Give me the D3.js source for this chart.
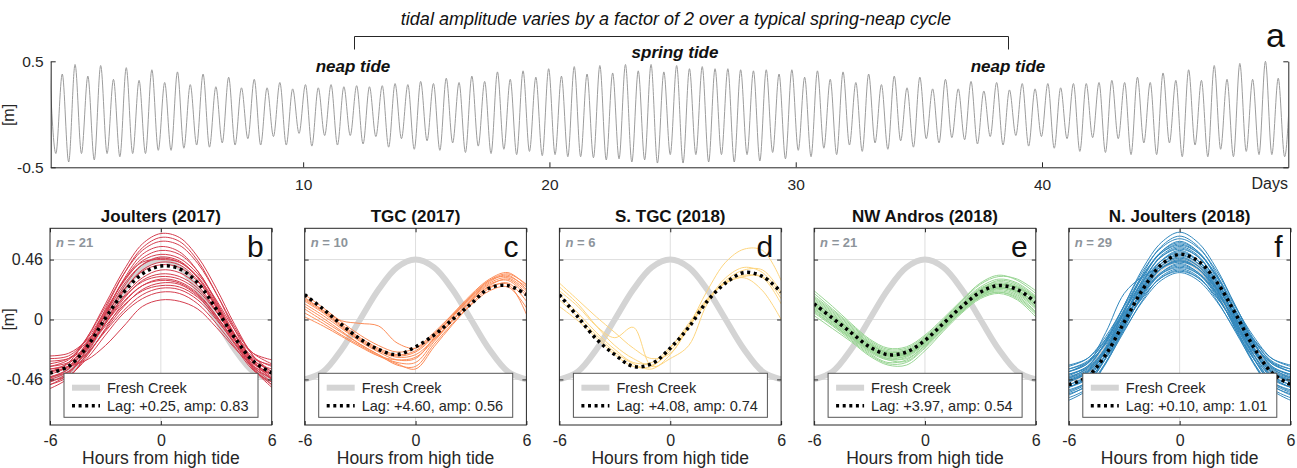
<!DOCTYPE html>
<html>
<head>
<meta charset="utf-8">
<script src="https://cdn.jsdelivr.net/npm/d3@7"></script>
<style>
  body { margin: 0; background: #fff; }
  svg { font-family: "Liberation Sans", Arial, Helvetica, sans-serif; }
</style>
</head>
<body>
<div id="chart"></div>
<script>
// ---- panel a : water level at Fresh Creek, read as successive highs and lows ----
var firstHighDay = -0.30;   // day of the first high water (just off the left edge)
var tidePeriod = 0.5197;    // days between successive highs
var tideHighs = [0.45, 0.38, 0.47, 0.36, 0.46, 0.33, 0.44, 0.32, 0.42, 0.30,
                 0.40, 0.28, 0.38, 0.26, 0.35, 0.25, 0.33, 0.25, 0.30, 0.24,
                 0.28, 0.25, 0.28, 0.26, 0.27, 0.26, 0.27, 0.29, 0.28, 0.31,
                 0.29, 0.34, 0.30, 0.36, 0.31, 0.40, 0.33, 0.41, 0.35, 0.43,
                 0.36, 0.45, 0.38, 0.46, 0.39, 0.47, 0.41, 0.47, 0.40, 0.46,
                 0.43, 0.45, 0.43, 0.43, 0.42, 0.41, 0.42, 0.38, 0.42, 0.35,
                 0.41, 0.33, 0.40, 0.30, 0.38, 0.28, 0.36, 0.25, 0.35, 0.24,
                 0.33, 0.24, 0.31, 0.22, 0.30, 0.23, 0.29, 0.24, 0.29, 0.25,
                 0.29, 0.29, 0.30, 0.32, 0.30, 0.35, 0.30, 0.39, 0.32, 0.42,
                 0.32, 0.46, 0.33, 0.48, 0.33, 0.50, 0.34, 0.48];
var tideLows = [-0.37, -0.45, -0.37, -0.43, -0.37, -0.40, -0.37, -0.37, -0.34, -0.34,
                -0.32, -0.29, -0.31, -0.27, -0.29, -0.23, -0.29, -0.21, -0.29, -0.18,
                -0.30, -0.20, -0.29, -0.20, -0.28, -0.21, -0.31, -0.23, -0.33, -0.25,
                -0.34, -0.27, -0.36, -0.30, -0.37, -0.33, -0.38, -0.35, -0.39, -0.38,
                -0.40, -0.40, -0.41, -0.43, -0.42, -0.45, -0.43, -0.46, -0.38, -0.46,
                -0.38, -0.45, -0.38, -0.45, -0.38, -0.44, -0.36, -0.42, -0.34, -0.40,
                -0.32, -0.38, -0.29, -0.35, -0.27, -0.33, -0.25, -0.31, -0.23, -0.27,
                -0.22, -0.24, -0.28, -0.21, -0.29, -0.20, -0.30, -0.21, -0.32, -0.23,
                -0.35, -0.22, -0.36, -0.23, -0.38, -0.27, -0.38, -0.27, -0.40, -0.29,
                -0.40, -0.33, -0.40, -0.35, -0.38, -0.38, -0.40];
var dayTicks = [10, 20, 30, 40];
var levelTicksA = [-0.5, 0.5];

// ---- panels b-f : tidal curves around high tide ----
var hours = [-6, -5, -4, -3, -2, -1, 0, 1, 2, 3, 4, 5, 6];
var hourTicks = [-6, 0, 6];
var levelTicks = [-0.46, 0, 0.46];
var freshCreek = [-0.46, -0.40, -0.23, 0.00, 0.23, 0.40, 0.46, 0.40, 0.23, 0.00, -0.23, -0.40, -0.46];

var siteNames = ["Joulters (2017)", "TGC (2017)", "S. TGC (2018)", "NW Andros (2018)", "N. Joulters (2018)"];
var panelLetters = ["b", "c", "d", "e", "f"];
var siteLags = [0.25, 4.60, 4.08, 3.97, 0.10];
var siteAmps = [0.83, 0.56, 0.74, 0.54, 1.01];
var siteColors = ["#d53e4f", "#fc8d59", "#fdd57f", "#99d594", "#3288bd"];

var joultersMean = [-0.41, -0.36, -0.21, 0.01, 0.21, 0.35, 0.41, 0.39, 0.28, 0.08, -0.14, -0.32, -0.41];
var tgcMean = [0.19, 0.08, -0.04, -0.15, -0.23, -0.27, -0.21, -0.12, 0.00, 0.12, 0.24, 0.26, 0.19];
var southTgcMean = [0.19, 0.02, -0.15, -0.27, -0.36, -0.34, -0.22, -0.06, 0.14, 0.28, 0.36, 0.33, 0.21];
var nwAndrosMean = [0.12, 0.01, -0.10, -0.21, -0.27, -0.25, -0.16, -0.03, 0.10, 0.21, 0.26, 0.23, 0.13];
var northJoultersMean = [-0.50, -0.44, -0.27, -0.02, 0.23, 0.42, 0.50, 0.45, 0.29, 0.05, -0.21, -0.41, -0.50];

var joultersRuns = [
  [-0.40, -0.33, -0.14, 0.12, 0.38, 0.58, 0.66, 0.63, 0.48, 0.24, -0.04, -0.28, -0.42],
  [-0.45, -0.38, -0.19, 0.08, 0.35, 0.55, 0.63, 0.60, 0.45, 0.20, -0.08, -0.32, -0.46],
  [-0.36, -0.31, -0.14, 0.10, 0.35, 0.53, 0.60, 0.57, 0.43, 0.20, -0.06, -0.28, -0.40],
  [-0.50, -0.42, -0.22, 0.05, 0.31, 0.50, 0.56, 0.52, 0.37, 0.13, -0.14, -0.37, -0.50],
  [-0.42, -0.36, -0.18, 0.06, 0.30, 0.47, 0.53, 0.50, 0.37, 0.14, -0.11, -0.32, -0.44],
  [-0.30, -0.28, -0.15, 0.07, 0.29, 0.45, 0.50, 0.47, 0.35, 0.15, -0.08, -0.26, -0.34],
  [-0.48, -0.41, -0.23, 0.01, 0.25, 0.42, 0.48, 0.45, 0.32, 0.10, -0.15, -0.36, -0.48],
  [-0.38, -0.34, -0.18, 0.04, 0.27, 0.42, 0.47, 0.44, 0.32, 0.11, -0.12, -0.31, -0.40],
  [-0.44, -0.38, -0.20, 0.04, 0.30, 0.44, 0.46, 0.44, 0.33, 0.12, -0.12, -0.33, -0.45],
  [-0.53, -0.45, -0.26, -0.02, 0.22, 0.38, 0.44, 0.42, 0.30, 0.09, -0.16, -0.38, -0.52],
  [-0.34, -0.30, -0.17, 0.03, 0.23, 0.37, 0.42, 0.40, 0.29, 0.10, -0.12, -0.29, -0.36],
  [-0.46, -0.40, -0.24, -0.03, 0.18, 0.32, 0.38, 0.36, 0.26, 0.07, -0.15, -0.35, -0.46],
  [-0.40, -0.36, -0.22, -0.03, 0.16, 0.30, 0.35, 0.33, 0.24, 0.06, -0.15, -0.33, -0.42],
  [-0.28, -0.26, -0.16, 0.00, 0.17, 0.29, 0.33, 0.31, 0.22, 0.06, -0.12, -0.26, -0.31],
  [-0.50, -0.44, -0.28, -0.07, 0.13, 0.26, 0.31, 0.29, 0.20, 0.03, -0.18, -0.38, -0.50],
  [-0.36, -0.33, -0.21, -0.03, 0.14, 0.26, 0.30, 0.28, 0.19, 0.03, -0.16, -0.32, -0.38],
  [-0.44, -0.40, -0.27, -0.08, 0.10, 0.23, 0.28, 0.27, 0.18, 0.01, -0.19, -0.37, -0.45],
  [-0.32, -0.30, -0.21, -0.05, 0.11, 0.22, 0.26, 0.25, 0.17, 0.02, -0.16, -0.30, -0.35],
  [-0.40, -0.37, -0.26, -0.09, 0.07, 0.19, 0.24, 0.23, 0.15, 0.00, -0.18, -0.34, -0.42],
  [-0.47, -0.43, -0.30, -0.12, 0.05, 0.16, 0.21, 0.20, 0.12, -0.03, -0.21, -0.39, -0.48],
  [-0.38, -0.36, -0.31, -0.20, -0.05, 0.10, 0.15, 0.14, 0.08, -0.06, -0.22, -0.36, -0.42]
];
var tgcRuns = [
  [0.19, 0.09, -0.02, -0.12, -0.20, -0.25, -0.22, -0.10, 0.04, 0.18, 0.30, 0.33, 0.25],
  [0.16, 0.07, -0.04, -0.14, -0.22, -0.27, -0.24, -0.12, 0.02, 0.16, 0.28, 0.32, 0.22],
  [0.14, 0.05, -0.06, -0.16, -0.24, -0.29, -0.27, -0.15, 0.00, 0.15, 0.27, 0.30, 0.18],
  [0.12, 0.03, -0.07, -0.17, -0.25, -0.31, -0.30, -0.14, 0.02, 0.17, 0.30, 0.35, 0.27],
  [0.10, 0.01, -0.09, -0.19, -0.27, -0.33, -0.33, -0.17, -0.01, 0.14, 0.26, 0.31, 0.20],
  [0.08, -0.01, -0.10, -0.19, -0.27, -0.35, -0.36, -0.19, -0.03, 0.12, 0.24, 0.28, 0.14],
  [0.05, -0.03, -0.12, -0.20, -0.28, -0.34, -0.38, -0.21, -0.04, 0.11, 0.22, 0.25, 0.09],
  [0.02, -0.05, -0.13, -0.21, -0.28, -0.31, -0.29, -0.16, -0.01, 0.14, 0.25, 0.27, 0.04],
  [0.17, 0.07, -0.01, -0.03, -0.05, -0.18, -0.22, -0.11, 0.04, 0.19, 0.31, 0.36, 0.26],
  [0.15, 0.06, -0.05, -0.15, -0.23, -0.28, -0.25, -0.13, 0.03, 0.17, 0.29, 0.34, 0.23]
];
var southTgcRuns = [
  [0.28, 0.15, 0.02, -0.10, -0.22, -0.30, -0.26, -0.05, 0.22, 0.44, 0.54, 0.53, 0.30],
  [0.22, 0.10, -0.05, -0.14, -0.06, -0.36, -0.30, -0.20, 0.12, 0.30, 0.38, 0.38, 0.21],
  [0.15, 0.02, -0.12, -0.25, -0.34, -0.38, -0.27, -0.06, 0.15, 0.29, 0.34, 0.32, 0.12],
  [0.10, -0.01, -0.14, -0.27, -0.36, -0.36, -0.22, -0.03, 0.16, 0.28, 0.32, 0.22, 0.00],
  [0.19, 0.05, -0.10, -0.23, -0.33, -0.33, -0.21, -0.05, 0.15, 0.28, 0.33, 0.33, 0.16],
  [0.25, 0.12, -0.05, -0.20, -0.30, -0.35, -0.24, -0.06, 0.14, 0.32, 0.40, 0.36, 0.19]
];
var nwAndrosRuns = [
  [0.22, 0.10, -0.03, -0.15, -0.22, -0.21, -0.12, 0.01, 0.15, 0.28, 0.34, 0.30, 0.20],
  [0.18, 0.07, -0.05, -0.17, -0.24, -0.23, -0.14, -0.01, 0.13, 0.25, 0.31, 0.28, 0.18],
  [0.16, 0.05, -0.07, -0.18, -0.25, -0.24, -0.15, -0.02, 0.12, 0.24, 0.29, 0.26, 0.16],
  [0.15, 0.04, -0.08, -0.19, -0.26, -0.26, -0.17, -0.03, 0.11, 0.23, 0.28, 0.25, 0.15],
  [0.14, 0.03, -0.09, -0.20, -0.27, -0.27, -0.18, -0.04, 0.10, 0.22, 0.27, 0.24, 0.14],
  [0.13, 0.02, -0.09, -0.20, -0.27, -0.25, -0.16, -0.03, 0.10, 0.21, 0.26, 0.24, 0.16],
  [0.12, 0.01, -0.10, -0.21, -0.28, -0.26, -0.16, -0.04, 0.09, 0.20, 0.25, 0.22, 0.12],
  [0.11, 0.00, -0.11, -0.22, -0.28, -0.27, -0.17, -0.04, 0.09, 0.20, 0.25, 0.21, 0.10],
  [0.10, 0.00, -0.12, -0.23, -0.29, -0.28, -0.18, -0.05, 0.08, 0.19, 0.24, 0.20, 0.09],
  [0.09, -0.02, -0.13, -0.24, -0.30, -0.28, -0.18, -0.05, 0.08, 0.20, 0.25, 0.22, 0.11],
  [0.08, -0.03, -0.14, -0.25, -0.31, -0.29, -0.19, -0.06, 0.07, 0.18, 0.23, 0.19, 0.08],
  [0.07, -0.04, -0.15, -0.26, -0.33, -0.31, -0.20, -0.06, 0.07, 0.18, 0.22, 0.18, 0.06],
  [0.05, -0.05, -0.16, -0.27, -0.34, -0.33, -0.22, -0.08, 0.06, 0.17, 0.21, 0.16, 0.04],
  [0.03, -0.07, -0.17, -0.28, -0.35, -0.35, -0.24, -0.09, 0.05, 0.16, 0.20, 0.15, 0.02],
  [0.20, 0.08, -0.04, -0.16, -0.23, -0.22, -0.13, 0.00, 0.14, 0.27, 0.33, 0.31, 0.22],
  [0.17, 0.06, -0.06, -0.18, -0.26, -0.25, -0.14, -0.01, 0.12, 0.23, 0.27, 0.25, 0.17],
  [0.13, 0.03, -0.08, -0.19, -0.25, -0.24, -0.15, -0.02, 0.11, 0.23, 0.30, 0.27, 0.17],
  [0.10, -0.01, -0.12, -0.22, -0.28, -0.27, -0.18, -0.05, 0.09, 0.21, 0.27, 0.23, 0.12],
  [0.08, -0.02, -0.13, -0.23, -0.30, -0.30, -0.20, -0.07, 0.06, 0.17, 0.21, 0.17, 0.05],
  [0.06, -0.04, -0.14, -0.24, -0.31, -0.32, -0.21, -0.07, 0.06, 0.18, 0.24, 0.21, 0.10],
  [0.11, 0.01, -0.10, -0.21, -0.27, -0.26, -0.17, -0.04, 0.08, 0.19, 0.24, 0.22, 0.13]
];
var northJoultersRuns = [
  [-0.45, -0.37, -0.17, 0.11, 0.39, 0.59, 0.67, 0.59, 0.39, 0.11, -0.17, -0.37, -0.45],
  [-0.52, -0.44, -0.23, 0.06, 0.35, 0.56, 0.64, 0.56, 0.35, 0.06, -0.23, -0.44, -0.52],
  [-0.40, -0.33, -0.15, 0.11, 0.37, 0.55, 0.62, 0.55, 0.37, 0.11, -0.15, -0.33, -0.40],
  [-0.58, -0.50, -0.29, 0.01, 0.31, 0.52, 0.60, 0.52, 0.31, 0.01, -0.29, -0.50, -0.58],
  [-0.47, -0.40, -0.21, 0.06, 0.33, 0.52, 0.59, 0.52, 0.33, 0.06, -0.21, -0.40, -0.47],
  [-0.36, -0.30, -0.13, 0.10, 0.34, 0.51, 0.57, 0.51, 0.34, 0.10, -0.13, -0.30, -0.36],
  [-0.55, -0.48, -0.27, 0.00, 0.28, 0.49, 0.56, 0.49, 0.28, 0.00, -0.27, -0.48, -0.55],
  [-0.50, -0.43, -0.24, 0.03, 0.29, 0.48, 0.55, 0.48, 0.29, 0.03, -0.24, -0.43, -0.50],
  [-0.42, -0.36, -0.18, 0.06, 0.30, 0.48, 0.54, 0.48, 0.30, 0.06, -0.18, -0.36, -0.42],
  [-0.62, -0.54, -0.33, -0.05, 0.24, 0.45, 0.53, 0.45, 0.24, -0.05, -0.33, -0.54, -0.62],
  [-0.48, -0.41, -0.23, 0.02, 0.27, 0.45, 0.52, 0.45, 0.27, 0.02, -0.23, -0.41, -0.48],
  [-0.38, -0.32, -0.16, 0.07, 0.29, 0.45, 0.51, 0.45, 0.29, 0.07, -0.16, -0.32, -0.38],
  [-0.56, -0.49, -0.30, -0.03, 0.24, 0.43, 0.50, 0.43, 0.24, -0.03, -0.30, -0.49, -0.56],
  [-0.45, -0.39, -0.22, 0.02, 0.26, 0.43, 0.49, 0.43, 0.26, 0.02, -0.22, -0.39, -0.45],
  [-0.52, -0.45, -0.27, -0.02, 0.23, 0.41, 0.48, 0.41, 0.23, -0.02, -0.27, -0.45, -0.52],
  [-0.40, -0.34, -0.18, 0.04, 0.25, 0.41, 0.47, 0.41, 0.25, 0.04, -0.18, -0.34, -0.40],
  [-0.60, -0.53, -0.34, -0.07, 0.20, 0.39, 0.46, 0.39, 0.20, -0.07, -0.34, -0.53, -0.60],
  [-0.47, -0.41, -0.24, -0.01, 0.22, 0.39, 0.45, 0.39, 0.22, -0.01, -0.24, -0.41, -0.47],
  [-0.35, -0.30, -0.15, 0.05, 0.24, 0.39, 0.44, 0.39, 0.24, 0.05, -0.15, -0.30, -0.35],
  [-0.54, -0.48, -0.30, -0.06, 0.19, 0.36, 0.43, 0.36, 0.19, -0.06, -0.30, -0.48, -0.54],
  [-0.44, -0.38, -0.23, -0.01, 0.21, 0.36, 0.42, 0.36, 0.21, -0.01, -0.23, -0.38, -0.44],
  [-0.50, -0.44, -0.27, -0.05, 0.18, 0.35, 0.41, 0.35, 0.18, -0.05, -0.27, -0.44, -0.50],
  [-0.38, -0.33, -0.19, 0.01, 0.20, 0.35, 0.40, 0.35, 0.20, 0.01, -0.19, -0.33, -0.38],
  [-0.57, -0.51, -0.33, -0.09, 0.15, 0.33, 0.39, 0.33, 0.15, -0.09, -0.33, -0.51, -0.57],
  [-0.46, -0.40, -0.25, -0.04, 0.17, 0.32, 0.38, 0.32, 0.17, -0.04, -0.25, -0.40, -0.46],
  [-0.42, -0.37, -0.22, -0.03, 0.17, 0.32, 0.37, 0.32, 0.17, -0.03, -0.22, -0.37, -0.42],
  [-0.52, -0.46, -0.30, -0.08, 0.14, 0.30, 0.36, 0.30, 0.14, -0.08, -0.30, -0.46, -0.52],
  [-0.43, -0.36, -0.17, 0.08, 0.33, 0.51, 0.58, 0.51, 0.33, 0.08, -0.17, -0.36, -0.43],
  [-0.40, -0.34, -0.10, 0.20, 0.33, 0.40, 0.45, 0.39, 0.23, 0.02, -0.19, -0.34, -0.40]
];

var siteRuns = [joultersRuns, tgcRuns, southTgcRuns, nwAndrosRuns, northJoultersRuns];
var siteMeans = [joultersMean, tgcMean, southTgcMean, nwAndrosMean, northJoultersMean];

function init() {
    var w = 1297, h = 468;
    var ink = "#262626";

    var svg = d3.select("#chart").append("svg")
                .attr("width", w)
                .attr("height", h);

    // ================= panel a =================
    var ax = d3.scaleLinear().domain([-0.25, 50]).range([50.7, 1288.3]);
    var ay = d3.scaleLinear().domain([-0.5, 0.5]).range([167.3, 61.3]);

    // highs and lows interleaved in time order
    var tide = [];
    tideHighs.forEach(function(v, i) {
        tide.push({ day: firstHighDay + i * tidePeriod, level: v });
        if (i < tideLows.length) tide.push({ day: firstHighDay + (i + 0.5) * tidePeriod, level: tideLows[i] });
    });

    svg.append("clipPath").attr("id", "clipA")
       .append("rect").attr("x", ax(-0.25)).attr("y", 50)
       .attr("width", ax(50) - ax(-0.25)).attr("height", 125);

    svg.append("path")
       .datum(tide)
       .attr("clip-path", "url(#clipA)")
       .attr("fill", "none")
       .attr("stroke", "#9c9c9c")
       .attr("stroke-width", 1)
       .attr("d", d3.line().x(d => ax(d.day)).y(d => ay(d.level)).curve(d3.curveMonotoneX));

    var aBottom = svg.append("g").attr("transform", "translate(0," + ay(-0.5) + ")")
        .call(d3.axisBottom(ax).tickValues(dayTicks).tickSizeInner(-5).tickSizeOuter(0).tickPadding(12).tickFormat(String));
    var aLeft = svg.append("g").attr("transform", "translate(" + ax(-0.25) + ",0)")
        .call(d3.axisLeft(ay).tickValues(levelTicksA).tickSizeInner(-5).tickSizeOuter(0).tickPadding(7).tickFormat(String));
    var aRight = svg.append("g").attr("transform", "translate(" + ax(50) + ",0)")
        .call(d3.axisRight(ay).tickValues(levelTicksA).tickSizeInner(-5).tickSizeOuter(0).tickFormat(""));
    [aBottom, aLeft, aRight].forEach(function(g) {
        g.selectAll("path, line").attr("stroke", ink);
        g.selectAll("text").attr("fill", ink).style("font-size", "15.5px").style("font-family", "inherit");
    });

    svg.append("text").attr("x", 1288).attr("y", 189).attr("text-anchor", "end")
       .attr("fill", ink).style("font-size", "16px").text("Days");
    svg.append("text").attr("transform", "translate(14,115) rotate(-90)").attr("text-anchor", "middle")
       .attr("fill", ink).style("font-size", "16px").text("[m]");
    svg.append("text").attr("x", 1285).attr("y", 47).attr("text-anchor", "end")
       .attr("fill", "#111").style("font-size", "34px").text("a");

    // spring-neap annotation
    svg.append("text").attr("x", 676).attr("y", 25).attr("text-anchor", "middle")
       .attr("fill", "#111").style("font-size", "18px").style("font-style", "italic")
       .text("tidal amplitude varies by a factor of 2 over a typical spring-neap cycle");
    svg.append("path")
       .attr("d", "M354.5,49.5V36.5H1008.5V49.5")
       .attr("fill", "none").attr("stroke", ink).attr("stroke-width", 1);
    [["neap tide", 353, 72], ["spring tide", 675, 58], ["neap tide", 1008, 72]].forEach(function(t) {
        svg.append("text").attr("x", t[1]).attr("y", t[2]).attr("text-anchor", "middle")
           .attr("fill", "#111").style("font-size", "17px").style("font-weight", "bold").style("font-style", "italic")
           .text(t[0]);
    });

    // ================= panels b-f =================
    var panelW = 221.7, panelTop = 228.3, panelBottom = 425;
    var sx = d3.scaleLinear().domain([-6, 6]).range([0, panelW]);
    var sy = d3.scaleLinear().domain([-0.81, 0.70]).range([panelBottom, panelTop]);
    var curve = d3.line().x((d, i) => sx(hours[i])).y(d => sy(d)).curve(d3.curveCatmullRom.alpha(0.5));

    siteNames.forEach(function(name, i) {
        var left = 50 + i * 254.7;
        var g = svg.append("g").attr("transform", "translate(" + left + ",0)");

        g.append("clipPath").attr("id", "clip" + i)
         .append("rect").attr("x", 0).attr("y", panelTop).attr("width", panelW).attr("height", panelBottom - panelTop);

        // grid
        g.selectAll(".hgrid").data(levelTicks).enter().append("line")
         .attr("x1", 0).attr("x2", panelW).attr("y1", d => sy(d)).attr("y2", d => sy(d))
         .attr("stroke", "#dedede").attr("stroke-width", 1);
        g.append("line").attr("x1", sx(0)).attr("x2", sx(0)).attr("y1", panelTop).attr("y2", panelBottom)
         .attr("stroke", "#dedede").attr("stroke-width", 1);

        var plot = g.append("g").attr("clip-path", "url(#clip" + i + ")");

        plot.append("path").datum(freshCreek)
            .attr("fill", "none").attr("stroke", "#d4d4d4").attr("stroke-width", 6)
            .attr("d", curve);

        plot.selectAll(".run").data(siteRuns[i]).enter().append("path")
            .attr("fill", "none").attr("stroke", siteColors[i]).attr("stroke-width", 1)
            .attr("d", curve);

        plot.append("path").datum(siteMeans[i])
            .attr("fill", "none").attr("stroke", "#000").attr("stroke-width", 3.5)
            .attr("stroke-dasharray", "3,3.6")
            .attr("d", curve);

        // axes (ticks point inward)
        var xb = g.append("g").attr("transform", "translate(0," + panelBottom + ")")
            .call(d3.axisBottom(sx).tickValues(hourTicks).tickSizeInner(-4).tickSizeOuter(0).tickPadding(10).tickFormat(String));
        var xt = g.append("g").attr("transform", "translate(0," + panelTop + ")")
            .call(d3.axisTop(sx).tickValues(hourTicks).tickSizeInner(-4).tickSizeOuter(0).tickFormat(""));
        var yl = g.append("g")
            .call(d3.axisLeft(sy).tickValues(levelTicks).tickSizeInner(-4).tickSizeOuter(0).tickPadding(7)
            .tickFormat(i === 0 ? String : ""));
        var yr = g.append("g").attr("transform", "translate(" + panelW + ",0)")
            .call(d3.axisRight(sy).tickValues(levelTicks).tickSizeInner(-4).tickSizeOuter(0).tickFormat(""));
        [xb, xt, yl, yr].forEach(function(a) {
            a.select(".domain").remove();
            a.selectAll("line").attr("stroke", ink);
            a.selectAll("text").attr("fill", ink).style("font-size", "16px").style("font-family", "inherit");
        });

        g.append("rect").attr("x", 0).attr("y", panelTop).attr("width", panelW).attr("height", panelBottom - panelTop)
         .attr("fill", "none").attr("stroke", ink).attr("stroke-width", 1);

        // labels
        g.append("text").attr("x", panelW / 2).attr("y", 221.5).attr("text-anchor", "middle")
         .attr("fill", "#111").style("font-size", "17px").style("font-weight", "bold").text(name);
        g.append("text").attr("x", panelW / 2).attr("y", 464).attr("text-anchor", "middle")
         .attr("fill", ink).style("font-size", "17.5px").text("Hours from high tide");
        g.append("text").attr("x", panelW - 8).attr("y", 257).attr("text-anchor", "end")
         .attr("fill", "#111").style("font-size", "30px").text(panelLetters[i]);

        var nLabel = g.append("text").attr("x", 6).attr("y", 247)
         .attr("fill", "#8d949b").style("font-size", "13px").style("font-weight", "bold");
        nLabel.append("tspan").style("font-style", "italic").text("n");
        nLabel.append("tspan").text(" = " + siteRuns[i].length);

        if (i === 0) {
            g.append("text").attr("transform", "translate(-36," + sy(0) + ") rotate(-90)").attr("text-anchor", "middle")
             .attr("fill", ink).style("font-size", "16px").text("[m]");
        }

        // legend
        var lg = g.append("g").attr("transform", "translate(14,373.3)");
        lg.append("rect").attr("width", 194).attr("height", 44)
          .attr("fill", "#fff").attr("stroke", "#555").attr("stroke-width", 1);
        lg.append("line").attr("x1", 8).attr("x2", 36).attr("y1", 14.4).attr("y2", 14.4)
          .attr("stroke", "#d4d4d4").attr("stroke-width", 6);
        lg.append("line").attr("x1", 8).attr("x2", 36).attr("y1", 32.4).attr("y2", 32.4)
          .attr("stroke", "#000").attr("stroke-width", 3.5).attr("stroke-dasharray", "3,3.6");
        lg.append("text").attr("x", 43).attr("y", 14.4).attr("dy", "0.35em")
          .attr("fill", ink).style("font-size", "14.5px").text("Fresh Creek");
        lg.append("text").attr("x", 43).attr("y", 32.4).attr("dy", "0.35em")
          .attr("fill", ink).style("font-size", "14.5px")
          .text("Lag: +" + siteLags[i].toFixed(2) + ", amp: " + siteAmps[i].toFixed(2));
    });
}

window.onload = init;
</script>
</body>
</html>
